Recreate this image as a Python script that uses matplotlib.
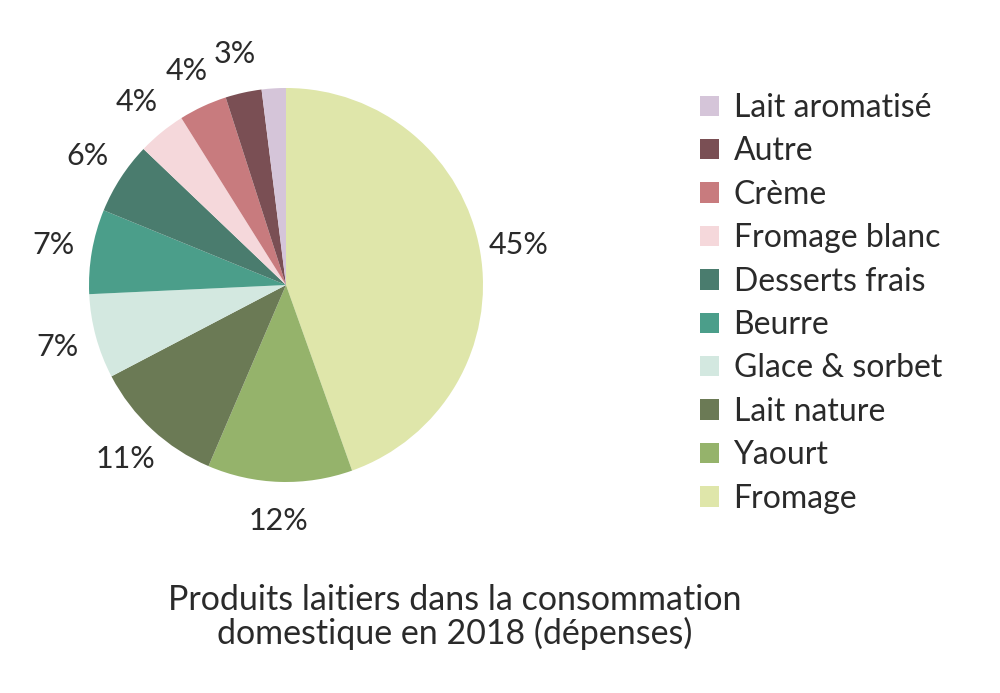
import matplotlib
matplotlib.use("Agg")
import matplotlib.pyplot as plt
from matplotlib.patches import Patch

plt.rcParams['font.family'] = ['Lato', 'DejaVu Sans']

# données (sens horaire depuis le haut)
categories = ["Fromage", "Yaourt", "Lait nature", "Glace & sorbet", "Beurre",
              "Desserts frais", "Fromage blanc", "Crème", "Autre", "Lait aromatisé"]
valeurs = [45, 12, 11, 7, 7, 6, 4, 4, 3, 2]
etiquettes = ["45%", "12%", "11%", "7%", "7%", "6%", "4%", "4%", "3%", ""]
couleurs = ["#dfe6aa", "#95b36b", "#6b7a55", "#d3e8e0", "#4b9e8a",
            "#4a7c6e", "#f5d8db", "#c87b7e", "#7a4f54", "#d5c5d9"]

texte = '#2a2a2a'
taille = 22

fig = plt.figure(figsize=(10, 6.93), dpi=100)
# axes du camembert : centre (286,285), rayon ~197 px
ax = fig.add_axes([(286 - 197) / 1000, 1 - (285 + 197) / 693, 394 / 1000, 394 / 693])

wedges, texts = ax.pie(valeurs, colors=couleurs, startangle=90, counterclock=False,
                       labels=etiquettes, labeldistance=1.2,
                       textprops={'fontsize': taille, 'color': texte})
for t in texts:
    t.set_ha('center')
    t.set_va('center')
ax.set_xlim(-1, 1)
ax.set_ylim(-1, 1)
ax.set_aspect('equal')

# légende (ordre inverse)
handles = [Patch(facecolor=c, edgecolor='none') for c in couleurs[::-1]]
leg = fig.legend(handles, categories[::-1], loc='upper left',
                 bbox_to_anchor=(0.684, 1 - 77 / 693), frameon=False,
                 fontsize=23, handlelength=0.6, handleheight=0.6,
                 handletextpad=0.45, labelspacing=0.42, borderpad=0,
                 labelcolor=texte)

fig.text(0.455, 1 - 617 / 693,
         "Produits laitiers dans la consommation\ndomestique en 2018 (dépenses)",
         ha='center', va='center', fontsize=24.5, color=texte, linespacing=1.05)

fig.savefig("out.png", dpi=100, facecolor='white')
